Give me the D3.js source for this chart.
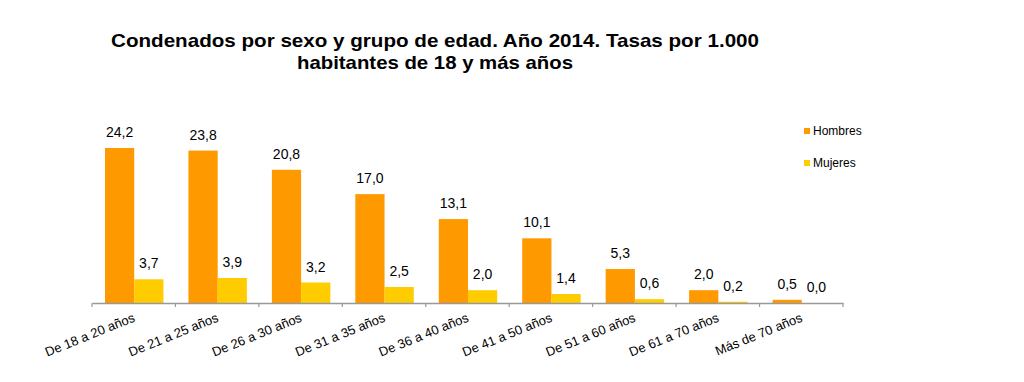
<!DOCTYPE html>
<html><head><meta charset="utf-8">
<script src="https://cdn.jsdelivr.net/npm/d3@7"></script>
<style>body{margin:0;background:#fff}svg{display:block}text{font-family:"Liberation Sans",Arial,sans-serif}</style>
</head><body><svg id="c" width="1024" height="382"></svg>
<script>
const categories = ["De 18 a 20 años","De 21 a 25 años","De 26 a 30 años","De 31 a 35 años","De 36 a 40 años","De 41 a 50 años","De 51 a 60 años","De 61 a 70 años","Más de 70 años"];
const hombres = [24.2,23.8,20.8,17.0,13.1,10.1,5.3,2.0,0.5];
const mujeres = [3.7,3.9,3.2,2.5,2.0,1.4,0.6,0.2,0.0];
const seriesNames = ["Hombres","Mujeres"];
const colors = ["#FF9900","#FFCC00"];
const titleLines = ["Condenados por sexo y grupo de edad. Año 2014. Tasas por 1.000","habitantes de 18 y más años"];

const svg = d3.select("#c");
const x0 = d3.scaleBand().domain(categories).range([92,843]).paddingInner(0).paddingOuter(0);
const x1 = d3.scaleBand().domain(seriesNames).range([13, x0.bandwidth()-12]).padding(0);
const y = d3.scaleLinear().domain([0,24.2]).range([303,148]);
const fmt = v => d3.format(".1f")(v).replace(".",",");

svg.append("g").selectAll("text").data(titleLines).join("text")
  .attr("x",435).attr("y",(d,i)=>47+i*22).attr("text-anchor","middle")
  .attr("font-size",19).attr("font-weight","bold").attr("fill","#000")
  .attr("textLength",(d,i)=>i==0?648:276).attr("lengthAdjust","spacingAndGlyphs")
  .text(d=>d);

const data = categories.map((c,i)=>({c, vals:[hombres[i],mujeres[i]]}));
const g = svg.append("g");
const grp = g.selectAll("g").data(data).join("g").attr("transform",d=>`translate(${x0(d.c)},0)`);
grp.selectAll("rect").data(d=>d.vals.map((v,j)=>({v,s:seriesNames[j],j}))).join("rect")
  .attr("x",d=>x1(d.s)).attr("width",x1.bandwidth())
  .attr("y",d=>y(d.v)).attr("height",d=>y(0)-y(d.v)).attr("fill",d=>colors[d.j]);
grp.selectAll("text.v").data(d=>d.vals.map((v,j)=>({v,s:seriesNames[j],j}))).join("text")
  .attr("class","v").attr("x",d=>x1(d.s)+x1.bandwidth()/2).attr("y",d=>y(d.v)-11)
  .attr("text-anchor","middle").attr("font-size",14).attr("fill","#000").text(d=>fmt(d.v));

const ax = svg.append("g").attr("transform","translate(0,303)")
  .call(d3.axisBottom(x0).tickSize(0).tickFormat(""));
ax.select(".domain").attr("stroke","#999").attr("stroke-width",1.5);
ax.selectAll(".tick").remove();
const edges = categories.map(c=>x0(c)).concat([x0.range()[1]]);
ax.selectAll("line.t").data(edges).join("line").attr("class","t")
  .attr("x1",d=>d).attr("x2",d=>d).attr("y1",0).attr("y2",4).attr("stroke","#999").attr("stroke-width",1.2);
ax.selectAll("text.l").data(categories).join("text").attr("class","l")
  .attr("transform",d=>`translate(${x0(d)+x0.bandwidth()/2+2},${18}) rotate(-22)`)
  .attr("text-anchor","end").attr("font-size",13).attr("fill","#000").text(d=>d);

const leg = svg.append("g");
seriesNames.forEach((s,i)=>{
  leg.append("rect").attr("x",804).attr("y",128+i*32).attr("width",6).attr("height",6).attr("fill",colors[i]);
  leg.append("text").attr("x",813).attr("y",135+i*32).attr("font-size",12).attr("fill","#000").text(s);
});
</script></body></html>
